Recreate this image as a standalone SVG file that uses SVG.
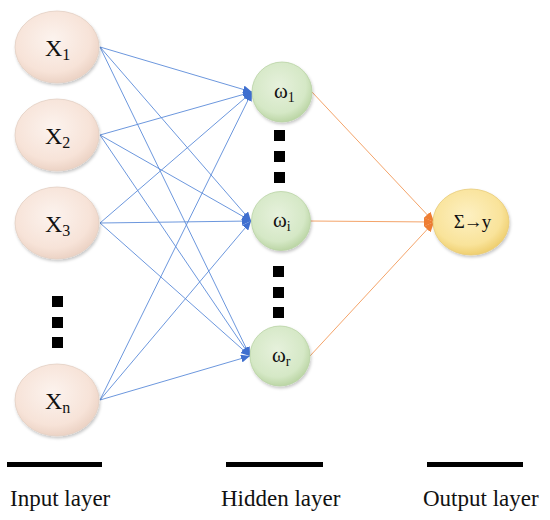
<svg xmlns="http://www.w3.org/2000/svg" width="550" height="520" viewBox="0 0 550 520">
<style>
.lbl{font-family:"Liberation Serif","Times New Roman",serif;fill:#111}
.blue{stroke:#5B8BD9;stroke-width:0.9;fill:none;marker-end:url(#ab)}
.orng{stroke:#F4A46A;stroke-width:1;fill:none;marker-end:url(#ao)}
.in{fill:url(#gIn);stroke:#E3CFC3;stroke-width:0.8;filter:url(#sh)}
.hid{fill:url(#gHid);stroke:#B9D3A4;stroke-width:0.8;filter:url(#sh)}
.out{fill:url(#gOut);stroke:#E8CC78;stroke-width:0.8;filter:url(#sh)}
.sq{fill:#000}
.bar{fill:#000}
</style>
<defs>
<radialGradient id="gIn" cx="45%" cy="40%" r="60%">
<stop offset="0" stop-color="#FCF3EE"/><stop offset="0.75" stop-color="#F7E3D8"/><stop offset="1" stop-color="#ECD3C5"/>
</radialGradient>
<radialGradient id="gHid" cx="45%" cy="40%" r="60%">
<stop offset="0" stop-color="#E6F1DC"/><stop offset="0.75" stop-color="#D5E8C6"/><stop offset="1" stop-color="#BCD6A6"/>
</radialGradient>
<radialGradient id="gOut" cx="45%" cy="40%" r="60%">
<stop offset="0" stop-color="#FDF0C2"/><stop offset="0.75" stop-color="#F9E39A"/><stop offset="1" stop-color="#EFCF70"/>
</radialGradient>
<filter id="sh" x="-20%" y="-20%" width="140%" height="140%">
<feDropShadow dx="1" dy="2" stdDeviation="1.5" flood-color="#000" flood-opacity="0.22"/>
</filter>
<marker id="ab" markerUnits="userSpaceOnUse" markerWidth="9" markerHeight="8" refX="9" refY="4" orient="auto">
<path d="M0,0 L9,4 L0,8 z" fill="#3F6FCF"/>
</marker>
<marker id="ao" markerUnits="userSpaceOnUse" markerWidth="10" markerHeight="9" refX="10" refY="4.5" orient="auto">
<path d="M0,0 L10,4.5 L0,9 z" fill="#EE7D32"/>
</marker>
</defs>
<rect width="550" height="520" fill="#fff"/>
<g id="connectors">
<line class="blue" x1="100" y1="47" x2="252" y2="92"/>
<line class="blue" x1="100" y1="47" x2="251" y2="221"/>
<line class="blue" x1="100" y1="47" x2="250" y2="356"/>
<line class="blue" x1="100" y1="135" x2="252" y2="92"/>
<line class="blue" x1="100" y1="135" x2="251" y2="221"/>
<line class="blue" x1="100" y1="135" x2="250" y2="356"/>
<line class="blue" x1="100" y1="223" x2="252" y2="92"/>
<line class="blue" x1="100" y1="223" x2="251" y2="221"/>
<line class="blue" x1="100" y1="223" x2="250" y2="356"/>
<line class="blue" x1="100" y1="400" x2="252" y2="92"/>
<line class="blue" x1="100" y1="400" x2="251" y2="221"/>
<line class="blue" x1="100" y1="400" x2="250" y2="356"/>
<line class="orng" x1="312" y1="92" x2="434" y2="222"/>
<line class="orng" x1="310" y1="221" x2="434" y2="222"/>
<line class="orng" x1="310" y1="356" x2="434" y2="222"/>
</g>
<g id="x1"><ellipse class="in" cx="57" cy="47" rx="42" ry="36"/>
<text class="lbl" font-size="24" x="45" y="56">X<tspan font-size="16" dy="4">1</tspan></text></g>
<g id="x2"><ellipse class="in" cx="57" cy="135" rx="42" ry="36"/>
<text class="lbl" font-size="24" x="45" y="144">X<tspan font-size="16" dy="4">2</tspan></text></g>
<g id="x3"><ellipse class="in" cx="57" cy="223" rx="42" ry="36"/>
<text class="lbl" font-size="24" x="45" y="232">X<tspan font-size="16" dy="4">3</tspan></text></g>
<g id="xn"><ellipse class="in" cx="57" cy="400" rx="42" ry="36"/>
<text class="lbl" font-size="24" x="45" y="409">X<tspan font-size="16" dy="4">n</tspan></text></g>
<g id="input-dots">
<rect class="sq" x="52" y="296" width="11" height="11"/>
<rect class="sq" x="52" y="317" width="11" height="11"/>
<rect class="sq" x="52" y="337" width="11" height="11"/>
</g>
<g id="w1"><circle class="hid" cx="282" cy="92" r="30"/>
<text class="lbl" font-size="21" x="274" y="98">ω<tspan font-size="14" dy="4">1</tspan></text></g>
<g id="wi"><circle class="hid" cx="281" cy="221" r="29.5"/>
<text class="lbl" font-size="21" x="273" y="227">ω<tspan font-size="14" dy="4">i</tspan></text></g>
<g id="wr"><circle class="hid" cx="280" cy="356" r="30"/>
<text class="lbl" font-size="21" x="272" y="362">ω<tspan font-size="14" dy="4">r</tspan></text></g>
<g id="hidden-dots">
<rect class="sq" x="274" y="130" width="11" height="11"/>
<rect class="sq" x="274" y="151" width="11" height="11"/>
<rect class="sq" x="274" y="172" width="11" height="11"/>
<rect class="sq" x="273" y="266" width="11" height="11"/>
<rect class="sq" x="273" y="287" width="11" height="11"/>
<rect class="sq" x="273" y="307" width="11" height="11"/>
</g>
<g id="output"><ellipse class="out" cx="471" cy="222" rx="38" ry="33"/>
<text class="lbl" font-size="19" x="472" y="228" text-anchor="middle" letter-spacing="-1">Σ→y</text></g>
<g id="legend">
<rect class="bar" x="7" y="462" width="95" height="5"/>
<rect class="bar" x="226" y="462" width="97" height="5"/>
<rect class="bar" x="427" y="462" width="96" height="5"/>
<text class="lbl" font-size="23" x="10" y="506">Input layer</text>
<text class="lbl" font-size="23" x="221" y="506">Hidden layer</text>
<text class="lbl" font-size="23" x="423" y="506">Output layer</text>
</g>
</svg>
